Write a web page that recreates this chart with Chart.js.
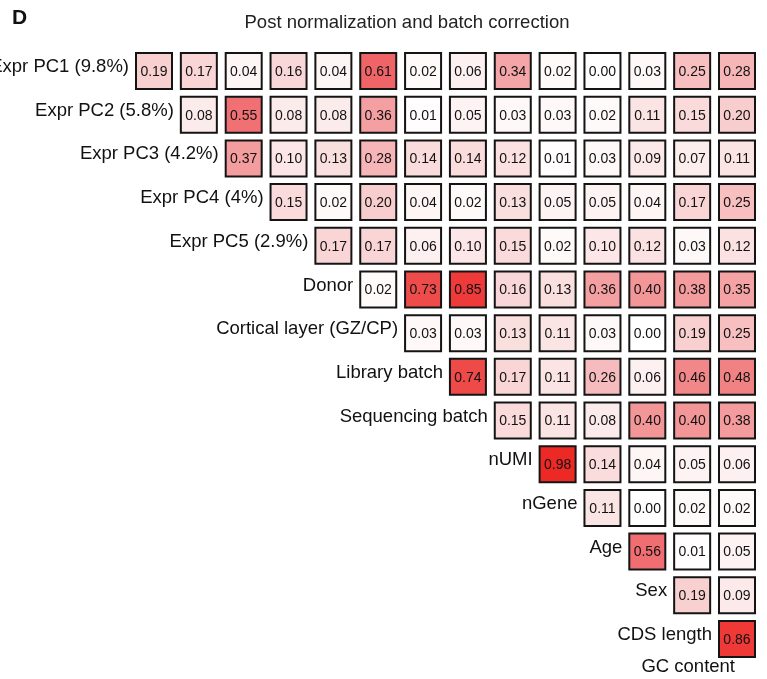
<!DOCTYPE html>
<html>
<head>
<meta charset="utf-8">
<script src="https://cdn.jsdelivr.net/npm/chart.js@4/dist/chart.umd.min.js"></script>
<style>
  html, body { margin: 0; padding: 0; background: #ffffff; }
  #wrap { width: 767px; height: 679px; }
</style>
</head>
<body>
<div id="wrap"><canvas id="c" width="767" height="679"></canvas></div>
<script>
// Variables in matrix order; row i is compared with every later variable.
const variables = [
  'Expr PC1 (9.8%)', 'Expr PC2 (5.8%)', 'Expr PC3 (4.2%)', 'Expr PC4 (4%)',
  'Expr PC5 (2.9%)', 'Donor', 'Cortical layer (GZ/CP)', 'Library batch',
  'Sequencing batch', 'nUMI', 'nGene', 'Age', 'Sex', 'CDS length', 'GC content'
];

// Upper-triangle correlation values, one array per row variable.
const exprPC1    = [0.19, 0.17, 0.04, 0.16, 0.04, 0.61, 0.02, 0.06, 0.34, 0.02, 0.00, 0.03, 0.25, 0.28];
const exprPC2    = [0.08, 0.55, 0.08, 0.08, 0.36, 0.01, 0.05, 0.03, 0.03, 0.02, 0.11, 0.15, 0.20];
const exprPC3    = [0.37, 0.10, 0.13, 0.28, 0.14, 0.14, 0.12, 0.01, 0.03, 0.09, 0.07, 0.11];
const exprPC4    = [0.15, 0.02, 0.20, 0.04, 0.02, 0.13, 0.05, 0.05, 0.04, 0.17, 0.25];
const exprPC5    = [0.17, 0.17, 0.06, 0.10, 0.15, 0.02, 0.10, 0.12, 0.03, 0.12];
const donor      = [0.02, 0.73, 0.85, 0.16, 0.13, 0.36, 0.40, 0.38, 0.35];
const cortical   = [0.03, 0.03, 0.13, 0.11, 0.03, 0.00, 0.19, 0.25];
const libBatch   = [0.74, 0.17, 0.11, 0.26, 0.06, 0.46, 0.48];
const seqBatch   = [0.15, 0.11, 0.08, 0.40, 0.40, 0.38];
const nUMI       = [0.98, 0.14, 0.04, 0.05, 0.06];
const nGene      = [0.11, 0.00, 0.02, 0.02];
const age        = [0.56, 0.01, 0.05];
const sex        = [0.19, 0.09];
const cdsLength  = [0.86];

const rows = [exprPC1, exprPC2, exprPC3, exprPC4, exprPC5, donor, cortical,
              libBatch, seqBatch, nUMI, nGene, age, sex, cdsLength];

const titleText = 'Post normalization and batch correction';
const panelTag = 'D';

// Cell (row r, column c) sits at x = c, y = r; row r starts at column r.
const cells = [];
rows.forEach((vals, i) => {
  const r = i + 1;
  vals.forEach((v, k) => cells.push({ x: r + k, y: r, v: v }));
});

// White-to-red colour ramp.
const ramp = [
  [0.00, [255, 255, 255]],
  [0.20, [248, 205, 206]],
  [0.35, [244, 162, 164]],
  [0.55, [240, 112, 115]],
  [0.75, [238,  72,  70]],
  [1.00, [237,  38,  34]]
];
function colorFor(v) {
  for (let i = 1; i < ramp.length; i++) {
    if (v <= ramp[i][0]) {
      const [a, ca] = ramp[i - 1], [b, cb] = ramp[i];
      const t = (v - a) / (b - a);
      const c = ca.map((x, j) => Math.round(x + (cb[j] - x) * t));
      return `rgb(${c[0]},${c[1]},${c[2]})`;
    }
  }
  return 'rgb(237,38,34)';
}

const FONT = '"Liberation Sans", Arial, Helvetica, sans-serif';

function cellSide(chart) {
  const y = chart.scales.y;
  return Math.abs(y.getPixelForValue(2) - y.getPixelForValue(1)) * 0.824;
}

const textPlugin = {
  id: 'matrixText',
  afterDatasetsDraw(chart) {
    const { ctx, scales: { x, y } } = chart;
    const half = cellSide(chart) / 2 + 1;
    ctx.save();
    // values inside cells
    ctx.fillStyle = '#111111';
    ctx.font = `14px ${FONT}`;
    ctx.textAlign = 'center';
    ctx.textBaseline = 'middle';
    cells.forEach(p => {
      ctx.fillText(p.v.toFixed(2), x.getPixelForValue(p.x), y.getPixelForValue(p.y) + 1);
    });
    // row labels, right-aligned just left of each row's first cell
    ctx.font = `18.5px ${FONT}`;
    ctx.textAlign = 'right';
    rows.forEach((vals, i) => {
      const r = i + 1;
      ctx.fillText(variables[i], x.getPixelForValue(r) - half - 6, y.getPixelForValue(r) - 4);
    });
    // last variable labelled under the final column
    ctx.fillText(variables[14], x.getPixelForValue(14) - 2, y.getPixelForValue(14) + 28);
    // title
    ctx.font = `18.5px ${FONT}`;
    ctx.textAlign = 'center';
    ctx.fillStyle = '#222222';
    ctx.fillText(titleText, 407, 23);
    // panel tag
    ctx.font = `bold 21px ${FONT}`;
    ctx.textAlign = 'left';
    ctx.fillStyle = '#111111';
    ctx.fillText(panelTag, 12, 18);
    ctx.restore();
  }
};

new Chart(document.getElementById('c'), {
  type: 'scatter',
  data: {
    datasets: [{
      data: cells,
      pointStyle: 'rect',
      radius: ctx => cellSide(ctx.chart) / Math.SQRT2,
      hoverRadius: ctx => cellSide(ctx.chart) / Math.SQRT2,
      backgroundColor: ctx => colorFor(ctx.raw ? ctx.raw.v : 0),
      borderColor: '#141414',
      borderWidth: 2,
      hoverBorderWidth: 2
    }]
  },
  options: {
    responsive: false,
    animation: false,
    events: [],
    layout: { padding: 0 },
    plugins: { legend: { display: false }, tooltip: { enabled: false }, title: { display: false } },
    scales: {
      x: { type: 'linear', display: false, min: -2.434, max: 14.669 },
      y: { type: 'linear', display: false, reverse: true, min: -0.625, max: 14.916 }
    }
  },
  plugins: [textPlugin]
});
</script>
</body>
</html>
